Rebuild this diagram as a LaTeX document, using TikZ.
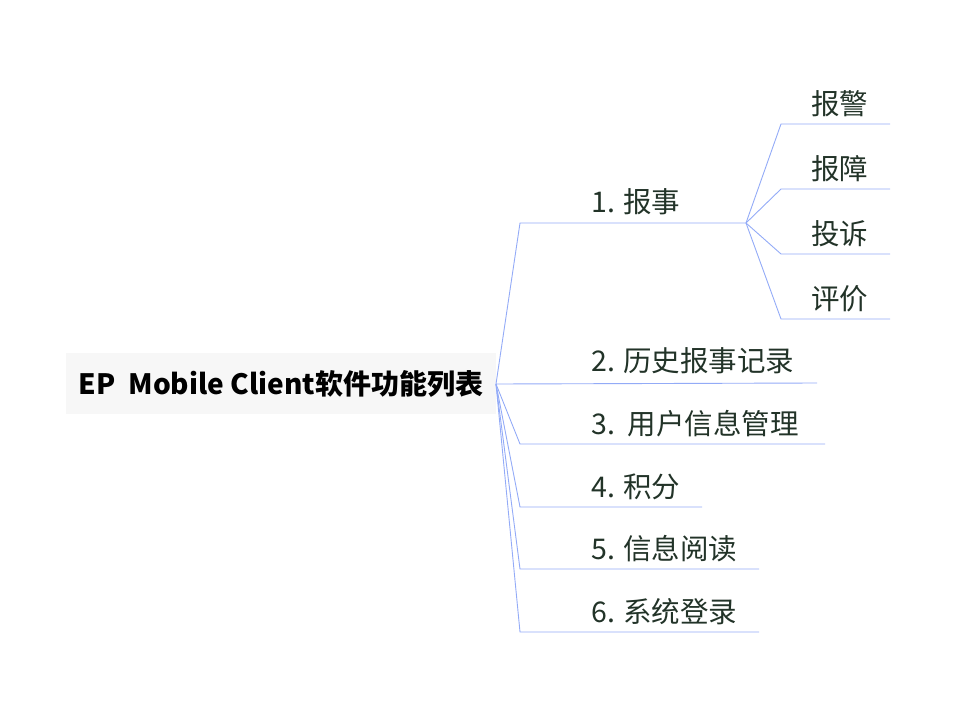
\documentclass[tikz,border=0pt]{standalone}
\usepackage{fontspec}
\newfontfamily\cjk{Noto Sans CJK SC}
\definecolor{linkblue}{HTML}{93ABF7}
\definecolor{labeltext}{HTML}{223328}
\definecolor{rootfill}{HTML}{F7F7F7}
\tikzset{
  link/.style={draw=linkblue, line width=0.9pt},
  rootbox/.style={fill=rootfill, minimum width=430pt, minimum height=61pt, inner sep=0pt,
    font=\cjk\bfseries\fontsize{28}{32}\selectfont, text=black},
  lbl/.style={anchor=west, inner sep=0pt, font=\cjk\fontsize{28.5}{32}\selectfont, text=labeltext}
}
\begin{document}
\begin{tikzpicture}[x=1pt,y=-1pt]
\useasboundingbox (0,0) rectangle (954,715);
\node[rootbox] (root) at (281,383.5) {EP\ \ Mobile Client软件功能列表};
\coordinate (o) at (496,384);
% main branches
\coordinate (c1) at (520,223); \coordinate (e1) at (746,223);
\coordinate (e2) at (817,383);
\coordinate (c3) at (520,444); \coordinate (e3) at (825,444);
\coordinate (c4) at (520,507); \coordinate (e4) at (702,507);
\coordinate (c5) at (520,569); \coordinate (e5) at (759,569);
\coordinate (c6) at (520,632); \coordinate (e6) at (759,632);
\draw[link] (o) -- (c1) -- (e1);
\draw[link] (o) -- (e2);
\draw[link] (o) -- (c3) -- (e3);
\draw[link] (o) -- (c4) -- (e4);
\draw[link] (o) -- (c5) -- (e5);
\draw[link] (o) -- (c6) -- (e6);
% sub branches
\coordinate (s1) at (781,124); \coordinate (f1) at (890,124);
\coordinate (s2) at (781,189); \coordinate (f2) at (890,189);
\coordinate (s3) at (781,254); \coordinate (f3) at (890,254);
\coordinate (s4) at (781,319); \coordinate (f4) at (890,319);
\draw[link] (e1) -- (s1) -- (f1);
\draw[link] (e1) -- (s2) -- (f2);
\draw[link] (e1) -- (s3) -- (f3);
\draw[link] (e1) -- (s4) -- (f4);
% labels
\node[lbl] (n1) at (591,202) {1. 报事};
\node[lbl] (n2) at (591,361) {2. 历史报事记录};
\node[lbl] (n3) at (591,424) {3.\ \ 用户信息管理};
\node[lbl] (n4) at (591,487) {4. 积分};
\node[lbl] (n5) at (591,549) {5. 信息阅读};
\node[lbl] (n6) at (591,612) {6. 系统登录};
\node[lbl] (m1) at (811,104) {报警};
\node[lbl] (m2) at (811,169) {报障};
\node[lbl] (m3) at (811,234) {投诉};
\node[lbl] (m4) at (811,299) {评价};
\end{tikzpicture}
\end{document}
